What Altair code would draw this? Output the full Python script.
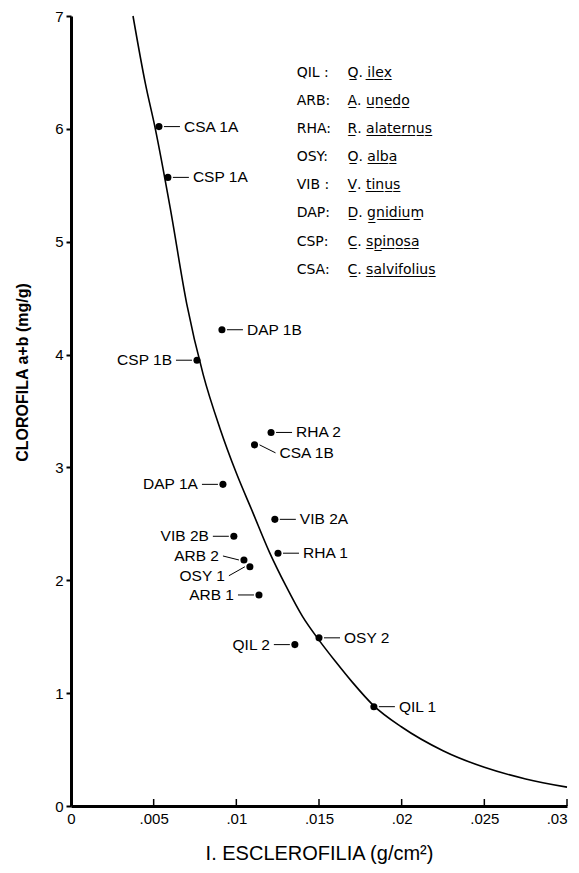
import altair as alt
import pandas as pd

# ---- data ----
codes = ["CSA 1A", "CSP 1A", "DAP 1B", "CSP 1B", "RHA 2", "CSA 1B", "DAP 1A", "VIB 2A",
         "VIB 2B", "RHA 1", "ARB 2", "OSY 1", "ARB 1", "QIL 2", "OSY 2", "QIL 1"]
sclero = [0.00532, 0.00586, 0.00913, 0.00762, 0.0121, 0.0111, 0.00919, 0.01233,
          0.00985, 0.01252, 0.01046, 0.01082, 0.01137, 0.01354, 0.0150, 0.01832]
chloro = [6.02, 5.57, 4.22, 3.95, 3.31, 3.20, 2.85, 2.54,
          2.39, 2.24, 2.18, 2.12, 1.87, 1.43, 1.49, 0.88]

curve_x = [0.00375, 0.0045, 0.0051, 0.0060, 0.0070, 0.0080, 0.0090, 0.0100, 0.0110, 0.0120,
           0.0130, 0.0140, 0.0150, 0.0160, 0.0170, 0.0183, 0.0200, 0.0225, 0.0250, 0.0275, 0.0300]
curve_y = [7.0, 6.4, 6.0, 5.3, 4.45, 3.82, 3.35, 2.95, 2.6, 2.25,
           1.95, 1.68, 1.47, 1.28, 1.10, 0.89, 0.70, 0.49, 0.343, 0.24, 0.167]

legend_codes = ["QIL :", "ARB:", "RHA:", "OSY:", "VIB :", "DAP:", "CSP:", "CSA:"]
legend_genus = ["Q.", "A.", "R.", "O.", "V.", "D.", "C.", "C."]
legend_species = ["ilex", "unedo", "alaternus", "alba", "tinus", "gnidium", "spinosa", "salvifolius"]

x_ticks = [0.005, 0.01, 0.015, 0.02, 0.025, 0.03]
y_ticks = [0, 1, 2, 3, 4, 5, 6, 7]

# ---- label placement hints (side, vertical shift of label) ----
label_groups = [
    (1, 0, ["CSA 1A", "CSP 1A", "DAP 1B", "RHA 2", "VIB 2A", "RHA 1", "OSY 2", "QIL 1"]),
    (1, 8, ["CSA 1B"]),
    (-1, 0, ["CSP 1B", "DAP 1A", "VIB 2B", "ARB 1", "QIL 2"]),
    (-1, -4, ["ARB 2"]),
    (-1, 9, ["OSY 1"]),
]

W, H = 496, 790
FONT = "Liberation Sans"

pts = pd.DataFrame({"code": codes, "x": sclero, "y": chloro})
curve = pd.DataFrame({"x": curve_x, "y": curve_y})

def ul(s):
    return "".join(ch + "\u0332" if ch.isalpha() else ch for ch in s)

legend_df = pd.DataFrame({
    "row": list(range(len(legend_codes))),
    "code": legend_codes,
    "name": [ul(g) + "  " + ul(s) for g, s in zip(legend_genus, legend_species)],
})

xs = alt.Scale(domain=[0, 0.03], nice=False, zero=False)
ys = alt.Scale(domain=[0, 7], nice=False)

X = alt.X("x:Q", scale=xs, title="I. ESCLEROFILIA (g/cm\u00b2)",
          axis=alt.Axis(values=[0] + x_ticks, ticks=False, tickSize=0, grid=False,
                        labelExpr="datum.value == 0 ? '0' : replace(toString(datum.value), '0.', '.')",
                        labelPadding=5, titlePadding=17, titleFontSize=20, titleFontWeight="normal",
                        labelAlign={"condition": {"test": "datum.value >= 0.03", "value": "right"}, "value": "center"}))
Y = alt.Y("y:Q", scale=ys, title="CLOROFILA a+b (mg/g)",
          axis=alt.Axis(values=y_ticks, format="d", grid=False, tickSize=5, tickWidth=2,
                        labelPadding=3, titleFontSize=16, titleFontWeight="bold",
                        titleX=-41, titleY=356, titleBaseline="bottom", titleAngle=270))

line = alt.Chart(curve).mark_line(color="black", strokeWidth=1.6, interpolate="monotone").encode(x=X, y=Y)

xtick_df = pd.DataFrame({"x": x_ticks})
xtick_layer = alt.Chart(xtick_df).mark_rule(color="black", strokeWidth=1.5).encode(
    x=alt.X("x:Q", scale=xs), y=alt.value(H), y2=alt.value(H - 7))

dots = alt.Chart(pts).mark_circle(color="black", opacity=1, size=50).encode(
    x=alt.X("x:Q", scale=xs), y=alt.Y("y:Q", scale=ys))

layers = [line, xtick_layer, dots]
for side, dy, names in label_groups:
    base = alt.Chart(pts).transform_filter(alt.FieldOneOfPredicate(field="code", oneOf=names))
    rule = base.mark_rule(color="black", strokeWidth=1,
                          xOffset=side * 5, x2Offset=side * 21, yOffset=0, y2Offset=dy).encode(
        x=alt.X("x:Q", scale=xs), x2="x:Q", y=alt.Y("y:Q", scale=ys), y2="y:Q")
    txt = base.mark_text(font=FONT, fontSize=15.5, color="black", baseline="middle",
                         align="left" if side > 0 else "right", dx=side * 25, dy=dy).encode(
        x=alt.X("x:Q", scale=xs), y=alt.Y("y:Q", scale=ys), text="code:N")
    layers += [rule, txt]

LEG_X0, LEG_X1 = 0.01365, 0.01672
LEG_Y0, LEG_STEP = 6.494, 0.2487

leg_base = alt.Chart(legend_df).transform_calculate(
    ly=f"{LEG_Y0} - datum.row * {LEG_STEP}", lx0=f"{LEG_X0}", lx1=f"{LEG_X1}")
leg_codes = leg_base.mark_text(font="DejaVu Sans", fontSize=14, color="black", align="left",
                               baseline="middle").encode(
    x=alt.X("lx0:Q", scale=xs), y=alt.Y("ly:Q", scale=ys), text="code:N")
leg_names = leg_base.mark_text(font="DejaVu Sans", fontSize=14, color="black", align="left",
                               baseline="middle").encode(
    x=alt.X("lx1:Q", scale=xs), y=alt.Y("ly:Q", scale=ys), text="name:N")
layers += [leg_codes, leg_names]

chart = alt.layer(*layers).properties(
    width=W, height=H,
    autosize=alt.AutoSizeParams(type="none"),
    padding={"left": 63, "top": 8, "right": 4, "bottom": 59},
).configure_view(stroke=None).configure_axis(
    domainColor="black", domainWidth=3, tickColor="black", labelColor="black", titleColor="black",
    labelFont=FONT, titleFont=FONT, labelFontSize=15,
)

chart.save("out.html", embed_options={"renderer": "svg", "actions": False})
